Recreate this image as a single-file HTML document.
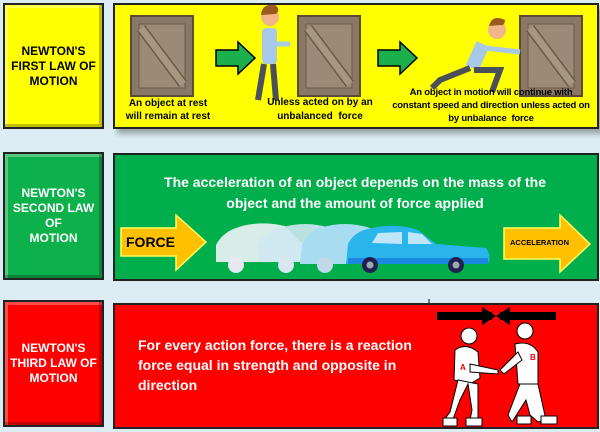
<!DOCTYPE html>
<html><head><meta charset="utf-8"><style>
body{margin:0;width:600px;height:432px;background:#dcecf3;position:relative;overflow:hidden;font-family:"Liberation Sans",sans-serif;font-weight:bold}
.b{position:absolute;border:2px solid #222;box-sizing:border-box}
.lab{display:flex;align-items:center;justify-content:center;text-align:center;font-size:12px;line-height:15px;box-shadow:inset -3px -3px 0 rgba(0,0,0,.25),inset 3px 3px 0 rgba(255,255,255,.3)}
.t{position:absolute;text-align:center;white-space:nowrap}
</style></head><body>
<div class="b lab" style="left:3px;top:3px;width:101px;height:126px;background:#ffff00;color:#000">NEWTON'S<br>FIRST LAW OF<br>MOTION</div>
<div class="b" style="left:113px;top:3px;width:486px;height:126px;background:#ffff00;box-shadow:4px 5px 5px rgba(0,0,0,.3)"></div>
<div class="b lab" style="left:3px;top:152px;width:101px;height:128px;background:#0cb14b;color:#fff">NEWTON'S<br>SECOND LAW<br>OF<br>MOTION</div>
<div class="b" style="left:113px;top:153px;width:486px;height:128px;background:#00ae4c"></div>
<div class="b lab" style="left:3px;top:300px;width:101px;height:127px;background:#ff0000;color:#fff">NEWTON'S<br>THIRD LAW OF<br>MOTION</div>
<div class="b" style="left:113px;top:303px;width:486px;height:126px;background:#ff0000"></div>

<svg width="600" height="432" style="position:absolute;left:0;top:0">
<defs><g id="crate"><rect width="62" height="80" fill="#8a7866" stroke="#5a4a3a" stroke-width="2"/><rect x="8" y="8" width="46" height="64" fill="#9c8a76" stroke="#6b5a48"/><line x1="10" y1="12" x2="52" y2="68" stroke="#6b5a48" stroke-width="10"/><line x1="10" y1="12" x2="52" y2="68" stroke="#a89680" stroke-width="7"/></g></defs>
<use href="#crate" x="131" y="16"/><use href="#crate" x="298" y="16"/><use href="#crate" x="520" y="16"/>
<polygon points="216,50 238,50 238,42 255,58 238,74 238,66 216,66" fill="#1cb04c" stroke="#000" stroke-width="1.5"/>
<polygon points="378,50 400,50 400,42 417,58 400,74 400,66 378,66" fill="#1cb04c" stroke="#000" stroke-width="1.5"/>
<circle cx="270" cy="17" r="9" fill="#f2b58a"/><path d="M261,15 Q262,3 275,5 Q281,9 276,14 Z" fill="#9a5a1c"/>
<rect x="262" y="28" width="15" height="36" rx="4" fill="#a8c8e8"/><line x1="275" y1="44" x2="290" y2="44" stroke="#a8c8e8" stroke-width="5"/>
<path d="M264,64 L258,100 M273,64 L276,100" stroke="#4a5058" stroke-width="6"/>
<circle cx="497" cy="30" r="9" fill="#f2b58a"/><path d="M489,26 Q492,14 505,20 Q505,26 500,25 Z" fill="#9a5a1c"/>
<path d="M483,44 L472,68" stroke="#a8c8e8" stroke-width="14"/><line x1="485" y1="48" x2="520" y2="52" stroke="#a8c8e8" stroke-width="5"/>
<path d="M470,68 L440,80 L432,88 M474,70 L500,70 L492,92" stroke="#4a5058" stroke-width="6" fill="none"/>
<polygon points="121,228 176,228 176,215 206,242 176,270 176,256 121,256" fill="#ffc000" stroke="#ffff60" stroke-width="1.5"/>
<polygon points="504,228 560,228 560,215 590,244 560,272 560,259 504,259" fill="#ffc000" stroke="#ffff60" stroke-width="1.5"/>
<path d="M216,262 L216,245 Q222,233 236,228 Q258,220 285,226 L300,242 L315,246 L316,262 Z" fill="#f0f4f8" opacity=".9"/>
<path d="M258,262 L258,245 Q264,232 280,228 Q305,220 330,228 L345,242 L356,246 L356,262 Z" fill="#cfe8f2" opacity=".9"/>
<path d="M300,264 L302,245 Q308,232 320,228 Q345,220 370,228 L385,242 L395,248 L392,264 Z" fill="#a8dcf0"/>
<path d="M346,264 L348,244 Q354,232 368,229 Q395,222 418,230 L436,244 L486,248 Q492,256 488,264 Z" fill="#29b4ec"/>
<rect x="348" y="258" width="140" height="6" fill="#1a88e0"/>
<path d="M372,243 L378,233 L402,232 L402,244 Z M408,232 L422,234 L432,244 L408,244 Z" fill="#bfe6f8"/>
<circle cx="370" cy="265" r="8" fill="#202050"/><circle cx="370" cy="265" r="3.5" fill="#9aa"/>
<circle cx="456" cy="265" r="8" fill="#202050"/><circle cx="456" cy="265" r="3.5" fill="#9aa"/>
<circle cx="236" cy="265" r="8" fill="#e8e8f0"/><circle cx="286" cy="265" r="8" fill="#d8e8f0"/><circle cx="325" cy="265" r="8" fill="#c0d8e8"/>
<rect x="437" y="312" width="55" height="8" fill="#000"/><polygon points="482,307 496,316 482,325" fill="#000"/>
<rect x="500" y="312" width="56" height="8" fill="#000"/><polygon points="510,307 496,316 510,325" fill="#000"/>
<line x1="429" y1="299" x2="429" y2="303" stroke="#000"/>
<g fill="#fff" stroke="#000" stroke-width="1">
<circle cx="469" cy="336" r="8"/>
<path d="M455,350 Q466,342 478,352 L480,378 L470,384 L454,380 Z"/>
<path d="M470,364 L498,370 L498,374 L470,372 Z"/>
<path d="M458,380 L450,412 L444,420 L452,422 L460,400 L468,384 L472,410 L470,420 L478,420 L478,384 Z"/>
<circle cx="525" cy="331" r="8"/>
<path d="M515,344 Q530,340 538,352 L538,384 L518,384 Z"/>
<path d="M518,352 L500,370 L504,374 L522,360 Z"/>
<path d="M520,384 L508,415 L512,422 L526,400 L530,415 L538,422 L546,420 L538,384 Z"/>
</g>
<rect x="443" y="418" width="14" height="8" fill="#fff" stroke="#000"/><rect x="466" y="418" width="16" height="8" fill="#fff" stroke="#000"/>
<rect x="517" y="416" width="14" height="8" fill="#fff" stroke="#000"/><rect x="541" y="416" width="16" height="8" fill="#fff" stroke="#000"/>
<text x="460" y="370" font-size="8" fill="#e00" font-family="Liberation Sans">A</text><text x="530" y="360" font-size="8" fill="#e00" font-family="Liberation Sans">B</text>
</svg>

<div class="t" style="left:118px;top:97px;width:100px;font-size:10px;line-height:13px">An object at rest<br>will remain at rest</div>
<div class="t" style="left:255px;top:96px;width:130px;font-size:10px;line-height:14px">Unless acted on by an<br>unbalanced&nbsp; force</div>
<div class="t" style="left:386px;top:86px;width:210px;font-size:9.5px;line-height:13px;letter-spacing:-0.2px">An object in motion will continue with<br>constant speed and direction unless acted on<br>by unbalance&nbsp; force</div>
<div class="t" style="left:130px;top:172px;width:450px;font-size:14px;line-height:21px;color:#fff">The acceleration of an object depends on the mass of the<br>object and the amount of force applied</div>
<div class="t" style="left:126px;top:234px;font-size:14px">FORCE</div>
<div class="t" style="left:510px;top:238px;font-size:7.5px">ACCELERATION</div>
<div class="t" style="left:138px;top:335px;width:300px;text-align:left;font-size:14px;line-height:20px;color:#fff">For every action force, there is a reaction<br>force equal in strength and opposite in<br>direction</div>
</body></html>
